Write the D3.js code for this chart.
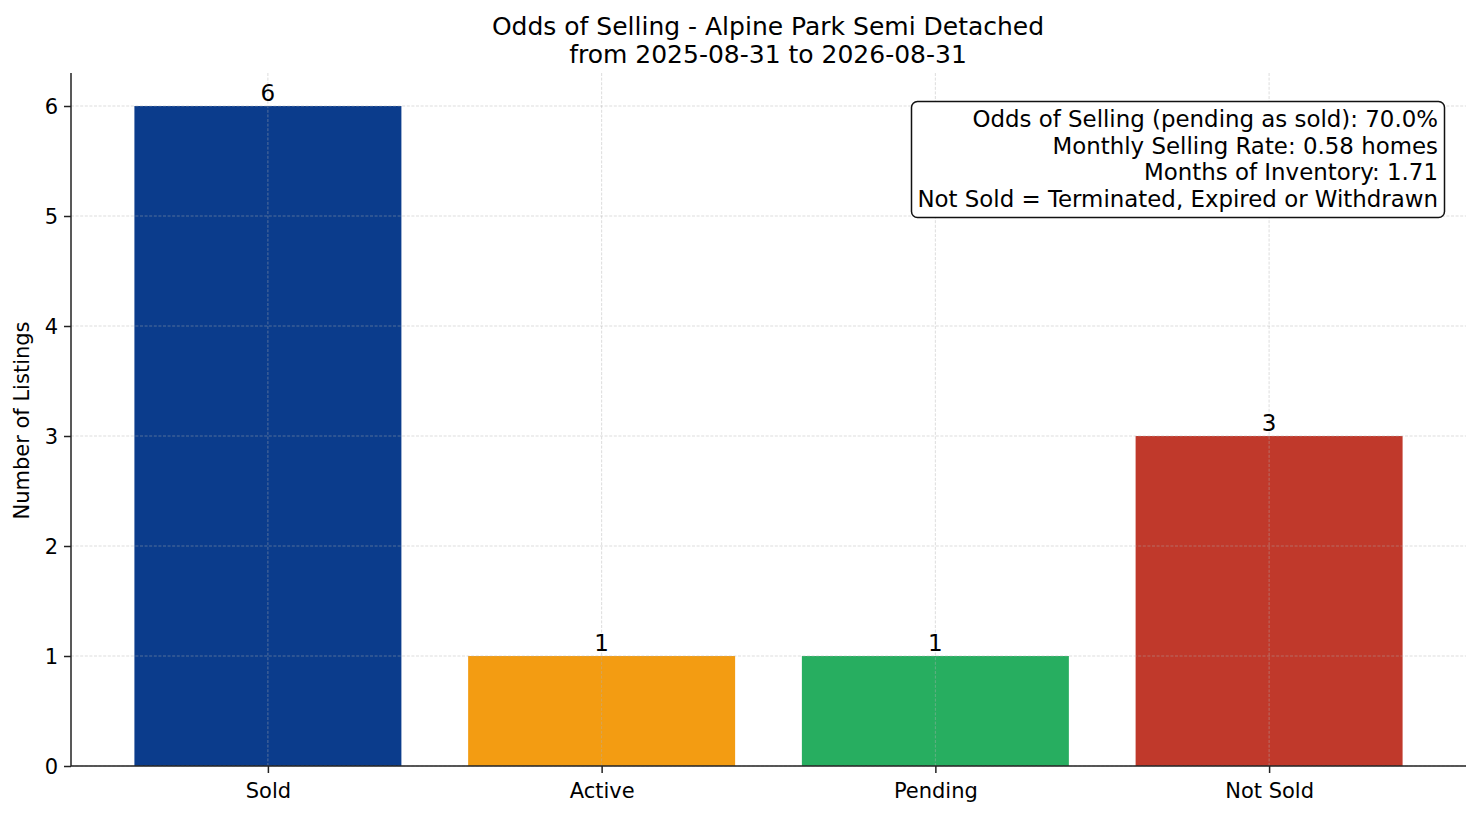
<!DOCTYPE html>
<html><head><meta charset="utf-8">
<script src="https://cdn.jsdelivr.net/npm/d3@7"></script>
<style>body{margin:0;background:#fff;} svg{display:block;font-family:"DejaVu Sans",sans-serif;}</style>
</head><body>
<svg id="c" width="1481" height="816"></svg>
<script>
const categories = ["Sold", "Active", "Pending", "Not Sold"];
const counts = [6, 1, 1, 3];
const colors = ["#0b3c8c", "#f39c12", "#27ae60", "#c0392b"];
const yTicks = [0, 1, 2, 3, 4, 5, 6];
const titleLines = ["Odds of Selling - Alpine Park Semi Detached", "from 2025-08-31 to 2026-08-31"];
const infoLines = ["Odds of Selling (pending as sold): 70.0%", "Monthly Selling Rate: 0.58 homes", "Months of Inventory: 1.71", "Not Sold = Terminated, Expired or Withdrawn"];
const yLabel = "Number of Listings";

const svg = d3.select("#c");
const L = 71, R = 1466, T = 73, B = 766;
const x = d3.scaleLinear().domain([-0.59, 3.59]).range([L, R]);
const y = d3.scaleLinear().domain([0, 6.3]).range([B, T]);
const bw = x(0.4) - x(-0.4);

// bars
svg.append("g").selectAll("rect").data(categories).join("rect")
  .attr("x", (d, i) => x(i) - bw / 2).attr("width", bw)
  .attr("y", (d, i) => y(counts[i])).attr("height", (d, i) => y(0) - y(counts[i]))
  .attr("fill", (d, i) => colors[i]);

// grid (on top)
const grid = svg.append("g").attr("stroke", "#b0b0b0").attr("stroke-opacity", 0.55).attr("stroke-width", 0.8).attr("stroke-dasharray", "3,1.6");
grid.selectAll(".gy").data(yTicks).join("line").attr("x1", L).attr("x2", R).attr("y1", d => y(d)).attr("y2", d => y(d));
grid.selectAll(".gx").data(categories).join("line").attr("y1", T).attr("y2", B).attr("x1", (d, i) => x(i)).attr("x2", (d, i) => x(i));

// axes
const yAxis = d3.axisLeft(y).tickValues(yTicks).tickFormat(d3.format("d")).tickSize(7).tickPadding(6);
const gy = svg.append("g").attr("transform", `translate(${L},0)`).call(yAxis);
gy.select(".domain").attr("d", `M0,${B}V${T}`).attr("stroke", "#222").attr("stroke-width", 1.5);
gy.selectAll(".tick line").attr("stroke", "#222").attr("stroke-width", 1.5);
gy.selectAll("text").attr("font-size", 21).attr("fill", "#000").attr("font-family", "DejaVu Sans").attr("dy", "0.35em");

const xAxis = d3.axisBottom(x).tickValues(d3.range(categories.length)).tickFormat(i => categories[i]).tickSize(7).tickPadding(10);
const gx = svg.append("g").attr("transform", `translate(0,${B})`).call(xAxis);
gx.select(".domain").attr("d", `M${L},0H${R}`).attr("stroke", "#222").attr("stroke-width", 1.5);
gx.selectAll(".tick line").attr("stroke", "#222").attr("stroke-width", 1.5);
gx.selectAll("text").attr("font-size", 21).attr("fill", "#000").attr("font-family", "DejaVu Sans");

// bar labels
svg.append("g").selectAll("text").data(categories).join("text")
  .attr("x", (d, i) => x(i)).attr("y", (d, i) => y(counts[i]) - 5)
  .attr("text-anchor", "middle").attr("font-size", 23).text((d, i) => counts[i]);

// title
svg.append("g").selectAll("text").data(titleLines).join("text")
  .attr("x", (L + R) / 2 - 0.5).attr("y", (d, i) => 35 + i * 27.5)
  .attr("text-anchor", "middle").attr("font-size", 25).text(d => d);

// y label
svg.append("text").attr("transform", `translate(29,${(T + B) / 2 + 1}) rotate(-90)`)
  .attr("text-anchor", "middle").attr("font-size", 21).text(yLabel);

// info box
svg.append("rect").attr("x", 911.5).attr("y", 101.5).attr("width", 533).attr("height", 116)
  .attr("rx", 6).attr("fill", "#fff").attr("stroke", "#111").attr("stroke-width", 1.5);
svg.append("g").selectAll("text").data(infoLines).join("text")
  .attr("x", 1438).attr("y", (d, i) => 127 + i * 26.7)
  .attr("text-anchor", "end").attr("font-size", 22.9).text(d => d);
</script>
</body></html>
